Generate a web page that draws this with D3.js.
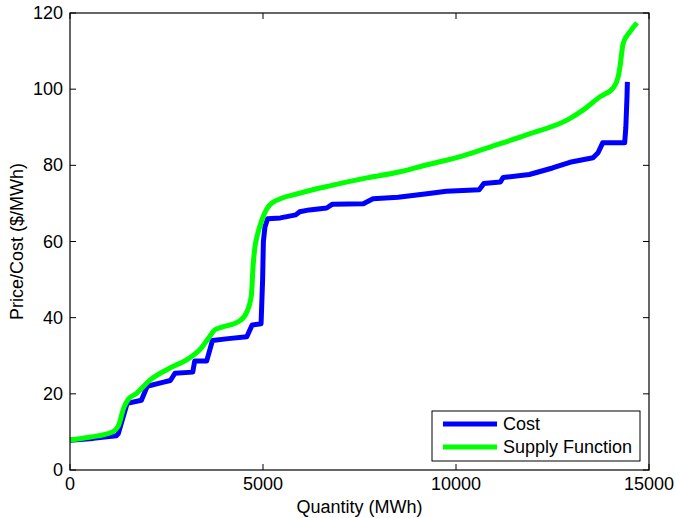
<!DOCTYPE html>
<meta charset="utf-8">
<style>
body { margin: 0; padding: 0; background: #fff; }
svg { display: block; font-family: "Liberation Sans", Arial, sans-serif; }
.lbl { font-size: 18px; fill: #000; }
</style>
<body>
<svg id="chart" width="676" height="518"></svg>
<script src="https://cdn.jsdelivr.net/npm/d3@7"></script>
<script>

// cost curve (stepwise)
var costQty = [0, 600, 1200, 1250, 1480, 1850, 2000, 2400, 2600, 2720, 3180, 3230, 3540, 3690, 4100, 4580,
  4720, 4950, 4990, 5010, 5050, 5120, 5450, 5850, 5950, 6200, 6650, 6800, 7600, 7850, 8500, 9300,
  9750, 10600, 10720, 11150, 11220, 11900, 12500, 12950, 13550, 13680, 13800, 14370, 14400, 14430, 14440];
var costPrice = [7.8, 8.3, 9.0, 9.5, 17.5, 18.3, 22.0, 23.0, 23.5, 25.4, 25.7, 28.6, 28.6, 34.0, 34.5, 35.0,
  38.1, 38.4, 50, 60, 63.8, 66.0, 66.2, 67.0, 67.8, 68.3, 68.8, 69.8, 69.9, 71.2, 71.6, 72.6,
  73.2, 73.6, 75.2, 75.6, 76.8, 77.6, 79.3, 80.8, 82.0, 83.3, 85.9, 85.9, 90, 98, 101.9];

// supply function curve
var supplyQty = [0, 500, 1100, 1250, 1400, 1500, 1730, 2070, 2590, 3030, 3400, 3600, 3750, 3900, 4400, 4580,
  4700, 4740, 4790, 4850, 4970, 5230, 5960, 6810, 7690, 8550, 9150, 10180, 10880, 11920, 12900,
  13290, 13730, 14070, 14200, 14250, 14330, 14500, 14690];
var supplyPrice = [7.9, 8.6, 10.0, 11.5, 16.5, 18.4, 20.2, 23.6, 26.8, 29.0, 32.0, 34.8, 36.8, 37.4, 39.2, 41.5,
  46, 53, 58.5, 61.5, 65.6, 70.1, 72.7, 74.8, 76.7, 78.3, 79.9, 82.5, 84.8, 88.3, 92.0,
  94.5, 98, 100.3, 103.2, 106, 112, 115, 117.4];

var xTicks = [0, 5000, 10000, 15000];
var yTicks = [0, 20, 40, 60, 80, 100, 120];

var seriesNames = ["Cost", "Supply Function"];
var seriesColors = ["#0000ff", "#00ff00"];

// plot box (avoid the name "top", it is window.top)
var pLeft = 70, pRight = 649, pTop = 13, pBottom = 470;

var svg = d3.select("#chart");

var x = d3.scaleLinear().domain([0, 15000]).range([pLeft, pRight]);
var y = d3.scaleLinear().domain([0, 120]).range([pBottom, pTop]);

// cost is piecewise, supply is smooth
var curves = [d3.curveLinear, d3.curveMonotoneX];

var series = [
  d3.zip(costQty, costPrice),
  d3.zip(supplyQty, supplyPrice)
];

series.forEach(function(s, i) {
  var line = d3.line()
    .x(function(d) { return x(d[0]); })
    .y(function(d) { return y(d[1]); })
    .curve(curves[i]);
  svg.append("path")
    .datum(s)
    .attr("d", line)
    .attr("fill", "none")
    .attr("stroke", seriesColors[i])
    .attr("stroke-width", 5)
    .attr("stroke-linejoin", "round");
});

svg.append("rect")
  .attr("x", pLeft).attr("y", pTop)
  .attr("width", pRight - pLeft).attr("height", pBottom - pTop)
  .attr("fill", "none").attr("stroke", "#000").attr("stroke-width", 1.2);

var tl = 6;
// x ticks, bottom and top, pointing in
xTicks.forEach(function(t) {
  var px = x(t);
  svg.append("line").attr("x1", px).attr("x2", px).attr("y1", pBottom).attr("y2", pBottom - tl)
    .attr("stroke", "#000");
  svg.append("line").attr("x1", px).attr("x2", px).attr("y1", pTop).attr("y2", pTop + tl)
    .attr("stroke", "#000");
  svg.append("text").attr("class", "lbl")
    .attr("x", px).attr("y", pBottom + 20)
    .attr("text-anchor", "middle")
    .text(t);
});

// y ticks, left and right
yTicks.forEach(function(t) {
  var py = y(t);
  svg.append("line").attr("x1", pLeft).attr("x2", pLeft + tl).attr("y1", py).attr("y2", py)
    .attr("stroke", "#000");
  svg.append("line").attr("x1", pRight).attr("x2", pRight - tl).attr("y1", py).attr("y2", py)
    .attr("stroke", "#000");
  svg.append("text").attr("class", "lbl")
    .attr("x", pLeft - 7).attr("y", py + 6)
    .attr("text-anchor", "end")
    .text(t);
});

svg.append("text").attr("class", "lbl")
  .attr("x", (pLeft + pRight) / 2).attr("y", 513)
  .attr("text-anchor", "middle")
  .text("Quantity (MWh)");

svg.append("text").attr("class", "lbl")
  .attr("transform", "translate(23," + ((pTop + pBottom) / 2) + ") rotate(-90)")
  .attr("text-anchor", "middle")
  .text("Price/Cost ($/MWh)");

// legend
var lg = svg.append("g");
lg.append("rect")
  .attr("x", 432).attr("y", 411).attr("width", 208).attr("height", 50)
  .attr("fill", "#fff").attr("stroke", "#000").attr("stroke-width", 1);
seriesNames.forEach(function(name, i) {
  var ly = 424 + i * 23;
  lg.append("line").attr("x1", 443).attr("x2", 497).attr("y1", ly).attr("y2", ly)
    .attr("stroke", seriesColors[i]).attr("stroke-width", 5);
  lg.append("text").attr("class", "lbl")
    .attr("x", 503).attr("y", ly + 6)
    .text(name);
});

</script>
</body>
